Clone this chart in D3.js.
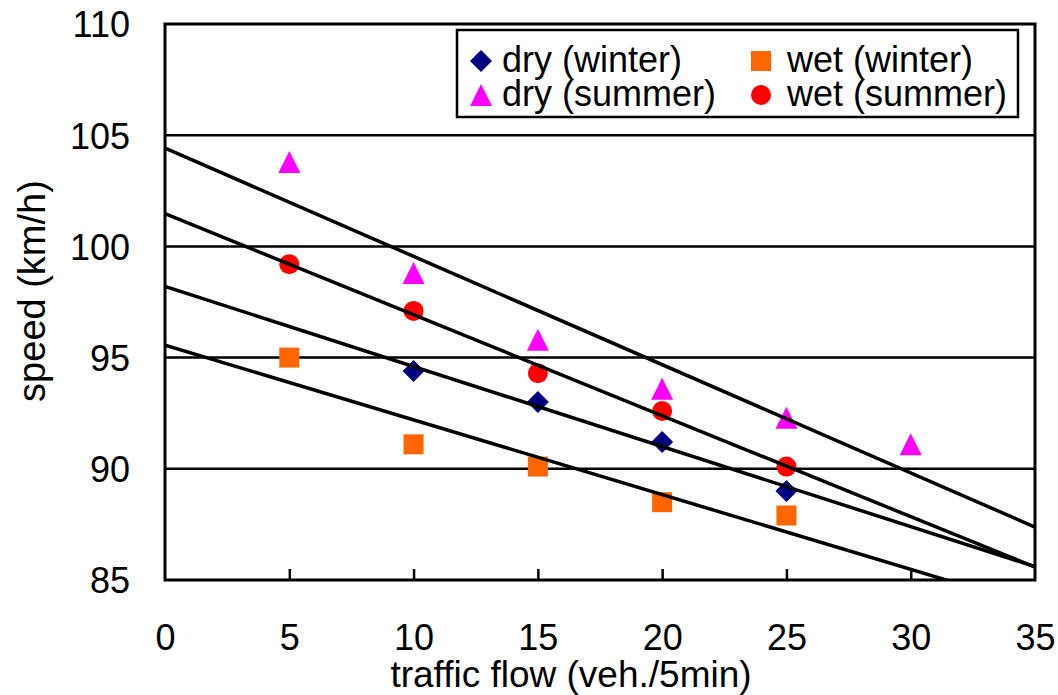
<!DOCTYPE html>
<html>
<head>
<meta charset="utf-8">
<script src="https://cdn.jsdelivr.net/npm/d3@7"></script>
<style>
  body { margin: 0; background: #fff; }
  text { font-family: "Liberation Sans", Arial, sans-serif; fill: #000; }
</style>
</head>
<body>
<script>
// values
const seriesNames = ['dry (winter)', 'wet (winter)', 'dry (summer)', 'wet (summer)'];
const seriesColors = ['#000080', '#ff6600', '#ff00ff', '#ff0000'];

const dryWinterX = [10, 15, 20, 25];
const dryWinterY = [94.4, 93.0, 91.2, 89.0];
const wetWinterX = [5, 10, 15, 20, 25];
const wetWinterY = [95.0, 91.1, 90.1, 88.5, 87.9];
const drySummerX = [5, 10, 15, 20, 25, 30];
const drySummerY = [103.8, 98.8, 95.8, 93.6, 92.3, 91.1];
const wetSummerX = [5, 10, 15, 20, 25];
const wetSummerY = [99.2, 97.1, 94.3, 92.6, 90.1];

const xTicks = [0, 5, 10, 15, 20, 25, 30, 35];
const yTicks = [85, 90, 95, 100, 105, 110];

const width = 1058, height = 695;
const margin = {left: 165, right: 23, top: 24, bottom: 115};

const x = d3.scaleLinear().domain([0, 35]).range([margin.left, width - margin.right]);
const y = d3.scaleLinear().domain([85, 110]).range([height - margin.bottom, margin.top]);

// symbols
const diamond = {
  draw(ctx, size) {
    const r = Math.sqrt(size) / 2;
    ctx.moveTo(0, -r); ctx.lineTo(r, 0); ctx.lineTo(0, r); ctx.lineTo(-r, 0); ctx.closePath();
  }
};
const tri = {
  draw(ctx, size) {
    const w = Math.sqrt(size) / 2;
    ctx.moveTo(0, -w); ctx.lineTo(w, w); ctx.lineTo(-w, w); ctx.closePath();
  }
};
const symbolTypes = [diamond, d3.symbolSquare, tri, d3.symbolCircle];
const symbolSizes = [22 * 22, 20 * 20, 22 * 22, Math.PI * 10 * 10];

const series = [
  {xs: dryWinterX, ys: dryWinterY},
  {xs: wetWinterX, ys: wetWinterY},
  {xs: drySummerX, ys: drySummerY},
  {xs: wetSummerX, ys: wetSummerY}
].map((s, i) => ({
  name: seriesNames[i],
  color: seriesColors[i],
  symbol: d3.symbol(symbolTypes[i], symbolSizes[i]),
  points: s.xs.map((v, j) => ({x: v, y: s.ys[j]}))
}));

// least squares fit for the trend lines
function fit(points) {
  const mx = d3.mean(points, d => d.x), my = d3.mean(points, d => d.y);
  const sxy = d3.sum(points, d => (d.x - mx) * (d.y - my));
  const sxx = d3.sum(points, d => (d.x - mx) ** 2);
  const b = sxy / sxx;
  return {a: my - b * mx, b};
}

const svg = d3.select('body').append('svg')
  .attr('width', width)
  .attr('height', height);

svg.append('defs').append('clipPath').attr('id', 'plot')
  .append('rect')
  .attr('x', x(0)).attr('y', y(110))
  .attr('width', x(35) - x(0)).attr('height', y(85) - y(110));

// gridlines
svg.append('g')
  .selectAll('line')
  .data(yTicks.filter(t => t > 85 && t < 110))
  .join('line')
  .attr('x1', x(0)).attr('x2', x(35))
  .attr('y1', d => y(d)).attr('y2', d => y(d))
  .attr('stroke', '#000')
  .attr('stroke-width', 2.5);

// markers
svg.append('g')
  .selectAll('g')
  .data(series)
  .join('g')
  .attr('fill', d => d.color)
  .each(function(s) {
    d3.select(this).selectAll('path')
      .data(s.points)
      .join('path')
      .attr('transform', d => `translate(${x(d.x)},${y(d.y)})`)
      .attr('d', s.symbol);
  });

// trend lines
const line = d3.line().x(d => x(d[0])).y(d => y(d[1]));
svg.append('g')
  .attr('clip-path', 'url(#plot)')
  .selectAll('path')
  .data(series)
  .join('path')
  .attr('d', s => {
    const f = fit(s.points);
    return line([0, 35].map(v => [v, f.a + f.b * v]));
  })
  .attr('fill', 'none')
  .attr('stroke', '#000')
  .attr('stroke-width', 3.5);

// frame
svg.append('rect')
  .attr('x', x(0)).attr('y', y(110))
  .attr('width', x(35) - x(0)).attr('height', y(85) - y(110))
  .attr('fill', 'none')
  .attr('stroke', '#000')
  .attr('stroke-width', 3);

// axes
const xAxis = svg.append('g')
  .attr('transform', `translate(0,${y(85)})`)
  .call(d3.axisBottom(x).tickValues(xTicks).tickSizeInner(-11).tickSizeOuter(0).tickPadding(0));
xAxis.select('.domain').remove();
xAxis.selectAll('.tick line').attr('stroke', '#000').attr('stroke-width', 2.5)
  .attr('display', d => (d === 0 || d === 35) ? 'none' : null);
xAxis.selectAll('.tick text')
  .attr('y', 70).attr('dy', null)
  .style('font-size', '36px')
  .style('font-family', '"Liberation Sans", Arial, sans-serif');

const yAxis = svg.append('g')
  .attr('transform', `translate(${x(0)},0)`)
  .call(d3.axisLeft(y).tickValues(yTicks).tickSize(0).tickPadding(35));
yAxis.select('.domain').remove();
yAxis.selectAll('.tick text')
  .attr('dy', '0.36em')
  .style('font-size', '36px')
  .style('font-family', '"Liberation Sans", Arial, sans-serif');

// axis titles
svg.append('text')
  .attr('x', 571).attr('y', 687)
  .attr('text-anchor', 'middle')
  .style('font-size', '37px')
  .text('traffic flow (veh./5min)');

svg.append('text')
  .attr('transform', 'translate(45,291) rotate(-90)')
  .attr('text-anchor', 'middle')
  .style('font-size', '38px')
  .text('speed (km/h)');

// legend
const legend = svg.append('g');
legend.append('rect')
  .attr('x', 457).attr('y', 30)
  .attr('width', 561).attr('height', 87)
  .attr('fill', '#fff')
  .attr('stroke', '#000')
  .attr('stroke-width', 2.5);

const legendMarkerX = [481, 761];
const legendTextX = [502, 787];
const legendBaseline = [72, 106];
const item = legend.selectAll('g.item')
  .data(series)
  .join('g')
  .attr('class', 'item');
item.append('path')
  .attr('transform', (d, i) => `translate(${legendMarkerX[i % 2]},${legendBaseline[Math.floor(i / 2)] - 11})`)
  .attr('d', d => d.symbol())
  .attr('fill', d => d.color);
item.append('text')
  .attr('x', (d, i) => legendTextX[i % 2])
  .attr('y', (d, i) => legendBaseline[Math.floor(i / 2)])
  .style('font-size', '36px')
  .text(d => d.name);
</script>
</body>
</html>
